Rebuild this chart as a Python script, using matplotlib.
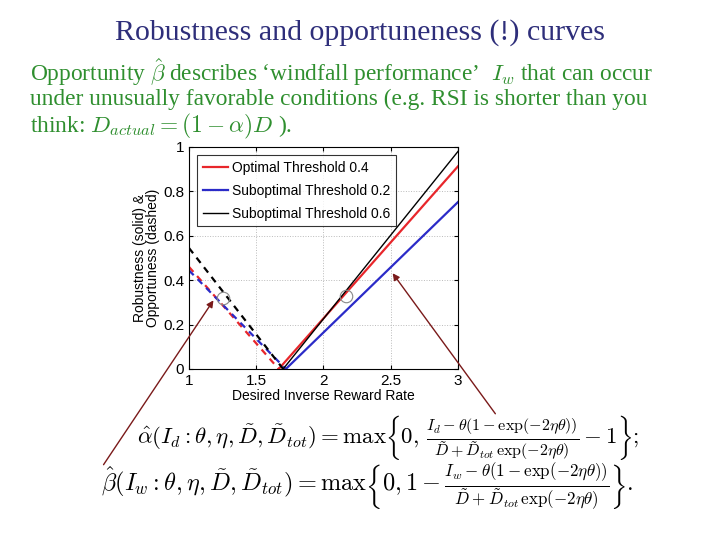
import matplotlib.pyplot as plt
from matplotlib.patches import FancyArrowPatch

plt.rcParams['mathtext.fontset'] = 'cm'

# values
labels = ['Optimal Threshold 0.4', 'Suboptimal Threshold 0.2', 'Suboptimal Threshold 0.6']
colors = ['#e8262b', '#2b2bc8', 'black']
widths = [1.6, 1.6, 1.0]

# robustness (solid): x where it leaves zero, value at x=3
rob_x = [[1.667, 3.0], [1.72, 3.0], [1.70, 3.0]]
rob_y = [[0.0, 0.913], [0.0, 0.752], [0.0, 0.98]]

# opportuneness (dashed)
opp_x = [[1.0, 1.667], [1.0, 1.72], [1.0, 1.70]]
opp_y = [[0.46, 0.0], [0.444, 0.0], [0.545, 0.0]]

circle_pts = [(1.25, 0.32), (2.17, 0.33)]

fig = plt.figure(figsize=(7.2, 5.4), dpi=100)
fig.patch.set_facecolor('white')

title_col = '#2e2e7a'
green = '#2f8f2f'
fig.text(0.5, 0.940, 'Robustness and opportuneness (!) curves', ha='center', va='center',
         fontsize=21.5, color=title_col, family='Liberation Serif')

lines = [u'Opportunity $\\hat{\\beta}$ describes \u2018windfall performance\u2019  $I_w$ that can occur',
         'under unusually favorable conditions (e.g. RSI is shorter than you',
         r'think: $D_{actual} = (1-\alpha)D$ ).']
for k, s in enumerate(lines):
    fig.text(0.042, 0.866 - 0.05 * k, s, ha='left', va='center', fontsize=16.8,
             color=green, family='Liberation Serif')

ax = fig.add_axes([0.2625, 0.3167, 0.3736, 0.4111])
for i in range(3):
    ax.plot(rob_x[i], rob_y[i], color=colors[i], lw=widths[i], label=labels[i])
    ax.plot(opp_x[i], opp_y[i], color=colors[i], lw=1.6, ls=(0, (3, 2.5)))
for cx, cy in circle_pts:
    ax.plot(cx, cy, 'o', ms=9, mfc='none', mec='#888888', mew=0.8)

ax.set_xlim(1, 3)
ax.set_ylim(0, 1)
ax.set_xticks([1, 1.5, 2, 2.5, 3])
ax.set_xticklabels(['1', '1.5', '2', '2.5', '3'])
ax.set_yticks([0, 0.2, 0.4, 0.6, 0.8, 1])
ax.set_yticklabels(['0', '0.2', '0.4', '0.6', '0.8', '1'])
ax.tick_params(direction='in', top=True, right=True, labelsize=11, length=3)
for t in ax.get_xticklabels() + ax.get_yticklabels():
    t.set_family('Liberation Sans')
ax.grid(True, ls=':', color='#bbbbbb', lw=0.7)
ax.set_xlabel('Desired Inverse Reward Rate', fontsize=10, family='Liberation Sans', labelpad=1)
ax.set_ylabel('Robustness (solid) &\nOpportuness (dashed)', fontsize=10,
              family='Liberation Sans', labelpad=2, linespacing=0.95)
leg = ax.legend(loc='upper left', frameon=True, fancybox=False,
                edgecolor='black', borderaxespad=0.6, handlelength=1.8,
                labelspacing=0.65, handletextpad=0.3,
                prop={'family': 'Liberation Sans', 'size': 10})
leg.get_frame().set_linewidth(0.8)

# arrows pointing at the circles
arrow_col = '#7a1a1a'
fig.add_artist(FancyArrowPatch(
    (102 / 720, 1 - 467 / 540), (215 / 720, 1 - 298 / 540), transform=fig.transFigure,
    arrowstyle='-|>', mutation_scale=10, color=arrow_col, lw=1.0))
fig.add_artist(FancyArrowPatch(
    (497 / 720, 1 - 416 / 540), (391 / 720, 1 - 271 / 540), transform=fig.transFigure,
    arrowstyle='-|>', mutation_scale=10, color=arrow_col, lw=1.0))

fig.text(0.19, 0.19,
         r'$\hat{\alpha}(I_d:\theta,\eta,\tilde{D},\tilde{D}_{tot}) = \max\left\{0,\,\frac{I_d-\theta(1-\exp(-2\eta\theta))}{\tilde{D}+\tilde{D}_{tot}\,\exp(-2\eta\theta)}-1\right\};$',
         ha='left', va='center', fontsize=16.5, color='black')
fig.text(0.14, 0.097,
         r'$\hat{\beta}(I_w:\theta,\eta,\tilde{D},\tilde{D}_{tot}) = \max\left\{0,1-\frac{I_w-\theta(1-\exp(-2\eta\theta))}{\tilde{D}+\tilde{D}_{tot}\,\exp(-2\eta\theta)}\right\}.$',
         ha='left', va='center', fontsize=17.5, color='black')

fig.savefig('out.png', dpi=100)
